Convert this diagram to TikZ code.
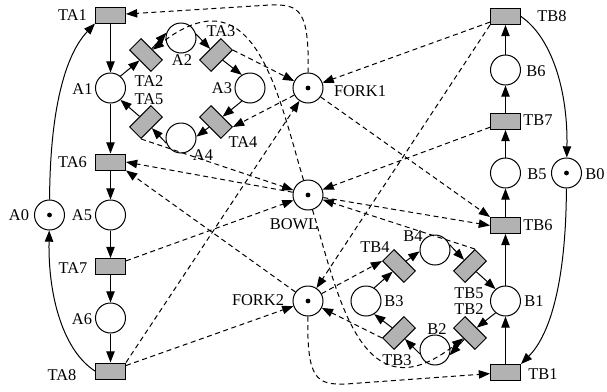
\documentclass[tikz,border=0pt]{standalone}
\usepackage{fontspec}
\setmainfont{Liberation Serif}
\usetikzlibrary{arrows.meta}
\begin{document}
\begin{tikzpicture}[x=0.5pt,y=-0.5pt,
  place/.style={circle,draw,line width=0.5pt,minimum size=15pt,inner sep=0pt},
  marked/.style={place,path picture={\fill (path picture bounding box.center) circle[radius=1.2pt];}},
  trans/.style={rectangle,draw,fill=gray!60,line width=0.5pt,minimum width=15pt,minimum height=8pt,inner sep=0pt},
  lbl/.style={inner sep=0pt,font=\fontsize{8.2}{9.8}\selectfont},
  arc/.style={line width=0.5pt,-{Triangle[length=5.6pt,width=4.2pt]}},
  res/.style={arc,dash pattern=on 2.5pt off 1.8pt}]
\useasboundingbox (0,0) rectangle (607,392);

% philosopher A: places
\node[marked] (A0) at (49.5,215) {};
\node[place] (A1) at (110.5,88) {};
\node[place] (A2) at (181,38) {};
\node[place] (A3) at (250,88) {};
\node[place] (A4) at (181,138) {};
\node[place] (A5) at (110.5,215) {};
\node[place] (A6) at (110.5,318) {};
% philosopher A: transitions
\node[trans] (TA1) at (110.5,15) {};
\node[trans,rotate=-45] (TA2) at (146,55) {};
\node[trans,rotate=45] (TA3) at (216,55) {};
\node[trans,rotate=-45] (TA4) at (216,122) {};
\node[trans,rotate=45] (TA5) at (146,122) {};
\node[trans] (TA6) at (110.5,162) {};
\node[trans] (TA7) at (110.5,266.5) {};
\node[trans] (TA8) at (110.5,371) {};

% philosopher B: places
\node[marked] (B0) at (566.5,173) {};
\node[place] (B1) at (505.5,301) {};
\node[place] (B2) at (435,350) {};
\node[place] (B3) at (366,301) {};
\node[place] (B4) at (435,250) {};
\node[place] (B5) at (505.5,173) {};
\node[place] (B6) at (505.5,70) {};
% philosopher B: transitions
\node[trans] (TB1) at (505.5,372.5) {};
\node[trans,rotate=-45] (TB2) at (470,333) {};
\node[trans,rotate=45] (TB3) at (399,333) {};
\node[trans,rotate=-45] (TB4) at (399,266) {};
\node[trans,rotate=45] (TB5) at (470,266) {};
\node[trans] (TB6) at (505.5,225.5) {};
\node[trans] (TB7) at (505.5,121.5) {};
\node[trans] (TB8) at (505.5,16.5) {};

% shared resources
\node[marked] (FORK1) at (308,88) {};
\node[marked] (FORK2) at (308,301) {};
\node[marked] (BOWL) at (308,195) {};

% labels
\node[lbl] (lA0) at (19,215) {A0};
\node[lbl] (lA1) at (82.5,89) {A1};
\node[lbl] (lA2) at (182,60) {A2};
\node[lbl] (lA3) at (222,88.5) {A3};
\node[lbl] (lA4) at (203,155) {A4};
\node[lbl] (lA5) at (82,215) {A5};
\node[lbl] (lA6) at (82,319) {A6};
\node[lbl] (lTA1) at (72.5,15) {TA1};
\node[lbl] (lTA2) at (149,81) {TA2};
\node[lbl] (lTA3) at (221,31) {TA3};
\node[lbl] (lTA4) at (243,142) {TA4};
\node[lbl] (lTA5) at (149,99) {TA5};
\node[lbl] (lTA6) at (72.5,162) {TA6};
\node[lbl] (lTA7) at (73,268) {TA7};
\node[lbl] (lTA8) at (62,375) {TA8};
\node[lbl] (lB0) at (595,174) {B0};
\node[lbl] (lB1) at (534,301) {B1};
\node[lbl] (lB2) at (437,329) {B2};
\node[lbl] (lB3) at (394,301) {B3};
\node[lbl] (lB4) at (413,236) {B4};
\node[lbl] (lB5) at (537,174) {B5};
\node[lbl] (lB6) at (536,71) {B6};
\node[lbl] (lTB1) at (543,374) {TB1};
\node[lbl] (lTB2) at (469,309) {TB2};
\node[lbl] (lTB3) at (397,360) {TB3};
\node[lbl] (lTB4) at (375,247) {TB4};
\node[lbl] (lTB5) at (469,293) {TB5};
\node[lbl] (lTB6) at (538,225) {TB6};
\node[lbl] (lTB7) at (538,120) {TB7};
\node[lbl] (lTB8) at (552,16) {TB8};
\node[lbl] (lFORK1) at (360,91) {FORK1};
\node[lbl] (lFORK2) at (258,300) {FORK2};
\node[lbl] (lBOWL) at (294,224) {BOWL};

% philosopher A: control flow
\draw[arc] (TA1) -- (A1);
\draw[arc] (A1) -- (TA6);
\draw[arc] (TA6) -- (A5);
\draw[arc] (A5) -- (TA7);
\draw[arc] (TA7) -- (A6);
\draw[arc] (A6) -- (TA8);
\draw[arc] (A0) .. controls (50,110) and (65,55) .. (TA1.south west);
\draw[arc] (TA8.west) .. controls (65,352) and (48,300) .. (A0);
\draw[arc] (A1.50) -- (TA2);
\draw[arc] (TA2) -- (A2.160);
\draw[arc] (A2.15) -- (TA3);
\draw[arc] (TA3) -- (A3.122);
\draw[arc] (A3.-122) -- (TA4);
\draw[arc] (TA4) -- (A4.5);
\draw[arc] (A4.200) -- (TA5);
\draw[arc] (TA5) -- (A1.-50);

% philosopher B: control flow
\draw[arc] (TB1) -- (B1);
\draw[arc] (B1) -- (TB6);
\draw[arc] (TB6) -- (B5);
\draw[arc] (B5) -- (TB7);
\draw[arc] (TB7) -- (B6);
\draw[arc] (B6) -- (TB8);
\draw[arc] (B0) .. controls (566,279) and (551,334) .. (TB1.north east);
\draw[arc] (TB8.east) .. controls (551,37) and (568,89) .. (B0);
\draw[arc] (B1.230) -- (TB2);
\draw[arc] (TB2) -- (B2.340);
\draw[arc] (B2.195) -- (TB3);
\draw[arc] (TB3) -- (B3.302);
\draw[arc] (B3.58) -- (TB4);
\draw[arc] (TB4) -- (B4.185);
\draw[arc] (B4.20) -- (TB5);
\draw[arc] (TB5) -- (B1.130);

% resource arcs of A
\draw[res] (FORK1) .. controls (309,10) and (300,4) .. (270,5) -- (TA1);
\draw[res] (BOWL) .. controls (278,95) and (255,-30) .. (TA2);
\draw[res] (TA3.south east) -- (FORK1);
\draw[res] (FORK1) -- (TA4.north east);
\draw[res] (TA5.south west) -- (BOWL);
\draw[res] (BOWL) -- (TA6.east);
\draw[res] (FORK2) -- (TA6.south east);
\draw[res] (TA7) -- (BOWL);
\draw[res] (TA8.north east) -- (FORK1);
\draw[res] (TA8) -- (FORK2);

% resource arcs of B
\draw[res] (FORK2) .. controls (307,379) and (316,385) .. (346,384) -- (TB1);
\draw[res] (BOWL) .. controls (338,294) and (361,419) .. (TB2);
\draw[res] (TB3.north west) -- (FORK2);
\draw[res] (FORK2) -- (TB4.south west);
\draw[res] (TB5.north east) -- (BOWL);
\draw[res] (BOWL) -- (TB6.west);
\draw[res] (FORK1) -- (TB6.north west);
\draw[res] (TB7) -- (BOWL);
\draw[res] (TB8.south west) -- (FORK2);
\draw[res] (TB8) -- (FORK1);
\end{tikzpicture}
\end{document}
